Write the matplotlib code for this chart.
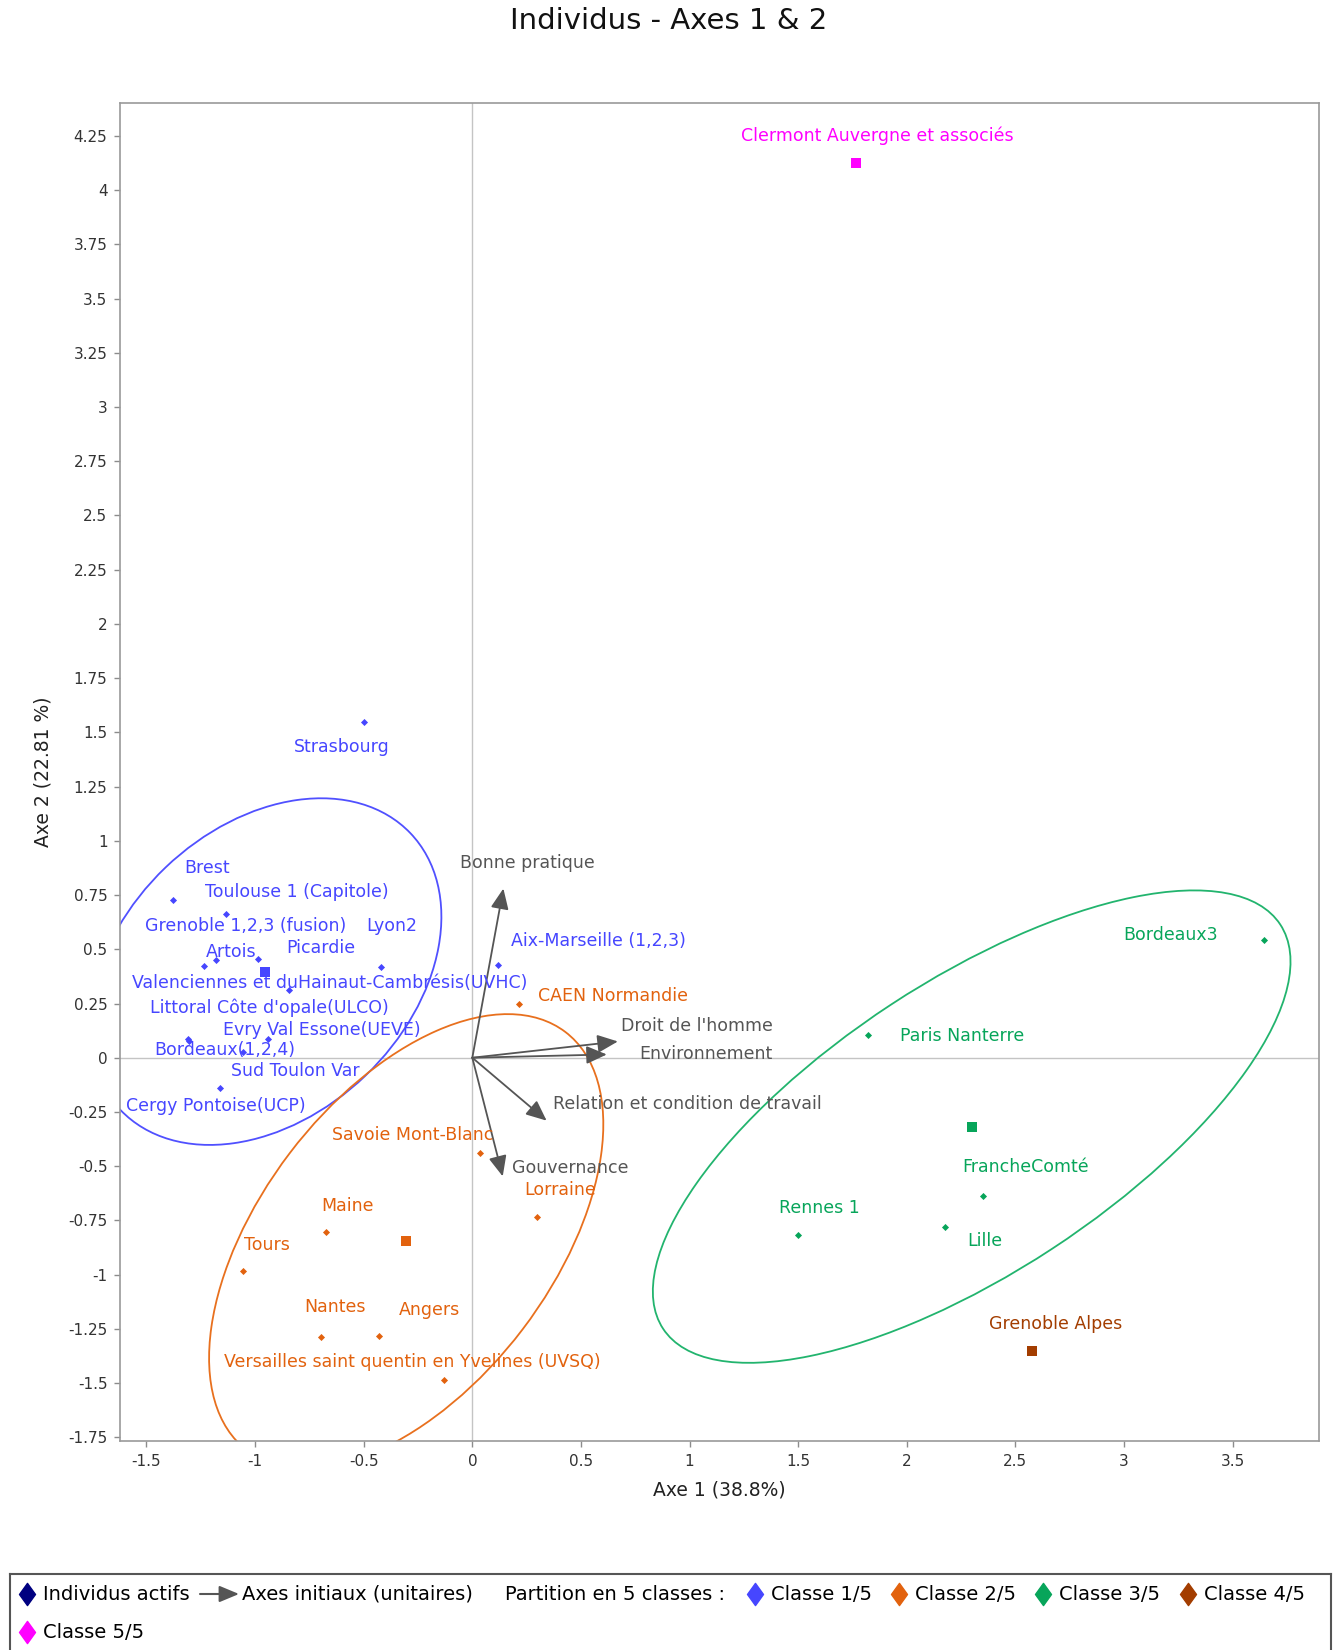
import numpy as np
import matplotlib
matplotlib.use("Agg")
import matplotlib.pyplot as plt
from matplotlib.patches import Ellipse
from matplotlib.path import Path

# ---------------- data ----------------
names = [
    "Strasbourg", "Brest", "Toulouse 1 (Capitole)", "Grenoble 1,2,3 (fusion)", "Artois",
    "Picardie", "Valenciennes et duHainaut-Cambrésis(UVHC)", "Lyon2", "Aix-Marseille (1,2,3)",
    "Littoral Côte d'opale(ULCO)", "Bordeaux(1,2,4)", "Evry Val Essone(UEVE)", "Sud Toulon Var",
    "Cergy Pontoise(UCP)",
    "CAEN Normandie", "Savoie Mont-Blanc", "Lorraine", "Maine", "Tours", "Nantes", "Angers",
    "Versailles saint quentin en Yvelines (UVSQ)",
    "Bordeaux3", "Paris Nanterre", "FrancheComté", "Lille", "Rennes 1",
    "Grenoble Alpes",
    "Clermont Auvergne et associés",
]
axe1 = [-0.497, -1.377, -1.135, -1.234, -1.181, -0.988, -0.845, -0.422, 0.117, -1.308, -1.306,
        -0.941, -1.054, -1.162,
        0.215, 0.035, 0.299, -0.675, -1.054, -0.695, -0.430, -0.130,
        3.644, 1.821, 2.352, 2.178, 1.500,
        2.577,
        1.765]
axe2 = [1.546, 0.727, 0.663, 0.423, 0.450, 0.455, 0.312, 0.420, 0.426, 0.086, 0.075,
        0.086, 0.028, -0.138,
        0.248, -0.438, -0.733, -0.805, -0.982, -1.289, -1.282, -1.486,
        0.543, 0.103, -0.638, -0.779, -0.817,
        -1.350,
        4.126]
classes = [1] * 14 + [2] * 8 + [3] * 5 + [4] + [5]

var_names = ["Bonne pratique", "Droit de l'homme", "Environnement",
             "Relation et condition de travail", "Gouvernance"]
var_axe1 = [0.143, 0.670, 0.619, 0.342, 0.140]
var_axe2 = [0.780, 0.075, 0.015, -0.290, -0.547]

x_ticks = [-1.5, -1, -0.5, 0, 0.5, 1, 1.5, 2, 2.5, 3, 3.5]
y_ticks = [-1.75, -1.5, -1.25, -1, -0.75, -0.5, -0.25, 0, 0.25, 0.5, 0.75, 1, 1.25, 1.5,
           1.75, 2, 2.25, 2.5, 2.75, 3, 3.25, 3.5, 3.75, 4, 4.25]

class_labels = ["Classe 1/5", "Classe 2/5", "Classe 3/5", "Classe 4/5", "Classe 5/5"]

# ---------------- styling / layout ----------------
class_colors = {1: "#4646FF", 2: "#E2620E", 3: "#07A55A", 4: "#A33D00", 5: "#FF00FF"}
ellipse_colors = {1: "#5050FF", 2: "#E8701E", 3: "#22B46E"}
arrow_color = "#555555"

# label offsets in pixels (dx to the right, dy downward)
label_offsets = {
    "Strasbourg": (-23, 25), "Brest": (34, -32), "Toulouse 1 (Capitole)": (71, -22),
    "Grenoble 1,2,3 (fusion)": (41, -40), "Artois": (15, -8), "Picardie": (63, -11),
    "Valenciennes et duHainaut-Cambrésis(UVHC)": (41, -7), "Lyon2": (11, -41),
    "Aix-Marseille (1,2,3)": (101, -24), "Littoral Côte d'opale(ULCO)": (81, -31),
    "Bordeaux(1,2,4)": (36, 9), "Evry Val Essone(UEVE)": (54, -9), "Sud Toulon Var": (52, 19),
    "Cergy Pontoise(UCP)": (-4, 18),
    "CAEN Normandie": (94, -8), "Savoie Mont-Blanc": (-67, -18), "Lorraine": (23, -27),
    "Maine": (22, -26), "Tours": (24, -26), "Nantes": (14, -30), "Angers": (51, -26),
    "Versailles saint quentin en Yvelines (UVSQ)": (-32, -18),
    "Bordeaux3": (-93, -5), "Paris Nanterre": (94, 1), "FrancheComté": (42, -29),
    "Lille": (39, 14), "Rennes 1": (21, -27),
    "Grenoble Alpes": (24, -27), "Clermont Auvergne et associés": (22, -27),
}
var_offsets = {
    "Bonne pratique": (24, -26), "Droit de l'homme": (79, -15), "Environnement": (99, 0),
    "Relation et condition de travail": (141, -17), "Gouvernance": (68, -8),
}

plt.rcParams["font.family"] = ["DejaVu Sans"]
plt.rcParams["axes.unicode_minus"] = False

W, H = 1338, 1650
fig = plt.figure(figsize=(W / 100, H / 100), dpi=100)
fig.patch.set_facecolor("white")

ax = fig.add_axes([120 / W, 1 - 1441 / H, (1319 - 120) / W, (1441 - 102.7) / H])
ax.set_xlim(-1.622, 3.898)
ax.set_ylim(-1.767, 4.403)

ax.set_xticks(x_ticks)
ax.set_xticklabels(["{:g}".format(v) for v in x_ticks])
ax.set_yticks(y_ticks)
ax.set_yticklabels(["{:g}".format(v) for v in y_ticks])
ax.tick_params(axis="both", direction="out", length=4, width=1, color="#8C8C8C",
               labelsize=11, labelcolor="#333333", pad=5)
for s in ax.spines.values():
    s.set_color("#9A9A9A")
    s.set_linewidth(1.2)

ax.axhline(0, color="#C4C4C4", lw=1.0, zorder=0)
ax.axvline(0, color="#C4C4C4", lw=1.0, zorder=0)

ax.set_xlabel("Axe 1 (38.8%)", fontsize=13.5, color="#222222", labelpad=9)
ax.set_ylabel("Axe 2 (22.81 %)", fontsize=13.5, color="#222222", labelpad=11)

x_arr = np.array(axe1)
y_arr = np.array(axe2)
c_arr = np.array(classes)

# ellipses (2 standard deviations) for the multi-member classes
for k in (1, 2, 3):
    m = c_arr == k
    pts = np.vstack([x_arr[m], y_arr[m]])
    mu = pts.mean(axis=1)
    cov = np.cov(pts, bias=True)
    vals, vecs = np.linalg.eigh(cov)
    order = vals.argsort()[::-1]
    vals, vecs = vals[order], vecs[:, order]
    ang = np.degrees(np.arctan2(vecs[1, 0], vecs[0, 0]))
    e = Ellipse(mu, width=4 * np.sqrt(vals[0]), height=4 * np.sqrt(vals[1]), angle=ang,
                fill=False, ec=ellipse_colors[k], lw=1.3, zorder=2)
    ax.add_patch(e)

# points and centroids
for k in (1, 2, 3, 4, 5):
    m = c_arr == k
    ax.scatter(x_arr[m], y_arr[m], marker="D", s=13, color=class_colors[k], zorder=4,
               linewidths=0)
    ax.scatter([x_arr[m].mean()], [y_arr[m].mean()], marker="s", s=55,
               color=class_colors[k], zorder=4, linewidths=0)

for n, xv, yv, k in zip(names, axe1, axe2, classes):
    dx, dy = label_offsets[n]
    ax.annotate(n, (xv, yv), xytext=(dx, -dy), textcoords="offset pixels",
                ha="center", va="center", fontsize=12.5, color=class_colors[k], zorder=5)

# variable arrows
for n, xv, yv in zip(var_names, var_axe1, var_axe2):
    ax.annotate("", xy=(xv, yv), xytext=(0, 0),
                arrowprops=dict(arrowstyle="-|>,head_length=1.25,head_width=0.55",
                                mutation_scale=10, color=arrow_color, lw=1.3,
                                shrinkA=0, shrinkB=0), zorder=3)
    dx, dy = var_offsets[n]
    ax.annotate(n, (xv, yv), xytext=(dx, -dy), textcoords="offset pixels",
                ha="center", va="center", fontsize=12.5, color="#555555", zorder=5)

fig.text(0.5, 1 - 21 / H, "Individus - Axes 1 & 2", ha="center", va="center",
         fontsize=21, color="#111111")

# ---------------- legend ----------------
lax = fig.add_axes([10 / W, 0, 1321 / W, 76 / H])
lax.set_xlim(10, 1331)
lax.set_ylim(1650, 1574)
lax.set_xticks([])
lax.set_yticks([])
for side, s in lax.spines.items():
    s.set_color("#555555")
    s.set_linewidth(1.5)
lax.spines["bottom"].set_visible(False)

diamond = Path([(0, 1), (0.72, 0), (0, -1), (-0.72, 0), (0, 1)],
               [Path.MOVETO, Path.LINETO, Path.LINETO, Path.LINETO, Path.CLOSEPOLY])

fs_leg = 14
r1, r2 = 1594, 1632
lax.plot([27], [r1], marker=diamond, ms=16, color="#000080", ls="none")
lax.text(43, r1, "Individus actifs", va="center", fontsize=fs_leg)
lax.annotate("", xy=(239, r1), xytext=(200, r1),
             arrowprops=dict(arrowstyle="-|>,head_length=1.2,head_width=0.5",
                             mutation_scale=10, color=arrow_color, lw=1.5,
                             shrinkA=0, shrinkB=0))
lax.text(242, r1, "Axes initiaux (unitaires)", va="center", fontsize=fs_leg)
lax.text(505, r1, "Partition en 5 classes :", va="center", fontsize=fs_leg)
leg_pos = [(755, r1), (899, r1), (1043, r1), (1188, r1), (27, r2)]
for k, (lab, (px, py)) in enumerate(zip(class_labels, leg_pos), start=1):
    lax.plot([px], [py], marker=diamond, ms=16, color=class_colors[k], ls="none")
    lax.text(px + 16, py, lab, va="center", fontsize=fs_leg)

fig.savefig("out.png", dpi=100, facecolor="white")
